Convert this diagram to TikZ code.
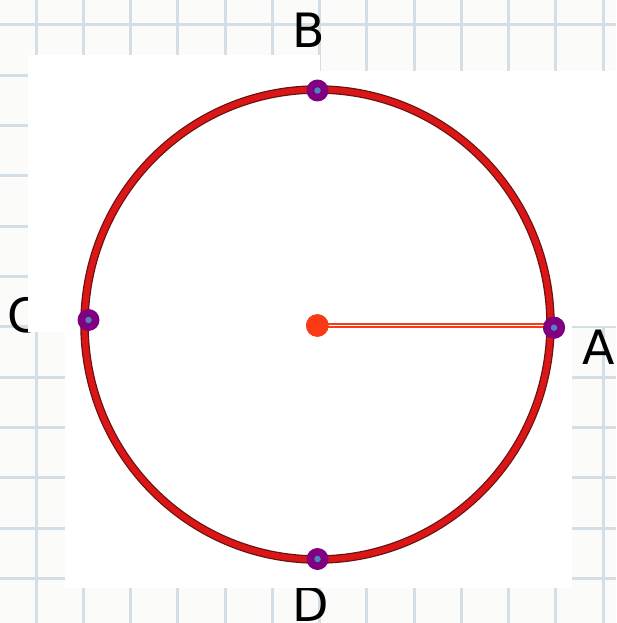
\documentclass[tikz,border=0pt]{standalone}
\usepackage{fontspec}
\setmainfont{DejaVu Sans}
\definecolor{gridc}{RGB}{212,223,229}
\definecolor{bgc}{RGB}{251,252,250}
\definecolor{circred}{RGB}{218,22,22}
\definecolor{circdark}{RGB}{105,18,18}
\definecolor{ptpurple}{RGB}{128,0,128}
\definecolor{ptblue}{RGB}{78,132,196}
\definecolor{orred}{RGB}{250,58,20}
\begin{document}
\begin{tikzpicture}[x=1pt,y=-1pt,
  gridline/.style={draw=gridc,line width=3pt},
  lbl/.style={inner sep=0pt,anchor=base west,font=\fontsize{47.3}{50}\selectfont,text=black},
  ptdot/.style={circle,fill=ptpurple,minimum size=22pt,inner sep=0pt},
  innerdot/.style={circle,fill=ptblue,minimum size=6.5pt,inner sep=0pt},
  ctrdot/.style={circle,fill=orred,minimum size=22.5pt,inner sep=0pt},
  radline/.style={draw=orred,line width=1.7pt,double=white,double distance=1.3pt}]
\useasboundingbox (0,0) rectangle (616,623);
\fill[bgc] (0,0) rectangle (616,623);
% grid
\foreach \i in {0,...,12} \draw[gridline] ({36+47.27*\i},0) -- ({36+47.27*\i},623);
\foreach \j in {0,...,11} \draw[gridline] (0,{25+50.3*\j}) -- (616,{25+50.3*\j});
% labels (partly covered by the white panel)
\node[lbl] (lB) at (292.7,47.3) {B};
\node[lbl] (lA) at (582.2,364) {A};
\node[lbl] (lC) at (7.6,332.8) {C};
\node[lbl] (lD) at (292.4,621.5) {D};
% white panel
\fill[white] (28,55) rectangle (320,332);
\fill[white] (316,71) rectangle (616,326);
\fill[white] (65,326) rectangle (572,588);
% circle
\coordinate (O) at (317.5,324.5);
\draw[circdark,line width=8.5pt] (O) ellipse [x radius=233, y radius=235];
\draw[circred,line width=6pt] (O) ellipse [x radius=233, y radius=235];
% points
\node[ptdot] (B) at (317.5,90.5) {};
\node[ptdot] (C) at (88.5,320) {};
\node[ptdot] (D) at (317.5,559) {};
\node[ptdot] (A) at (554,327.7) {};
\node[ctrdot] (M) at (317.3,325.5) {};
\draw[radline] (M.center) -- (M.center -| A.center);
\node[ctrdot] at (M) {};
\node[ptdot] at (A) {};
\foreach \p in {A,B,C,D} \node[innerdot] at (\p) {};
\end{tikzpicture}
\end{document}
